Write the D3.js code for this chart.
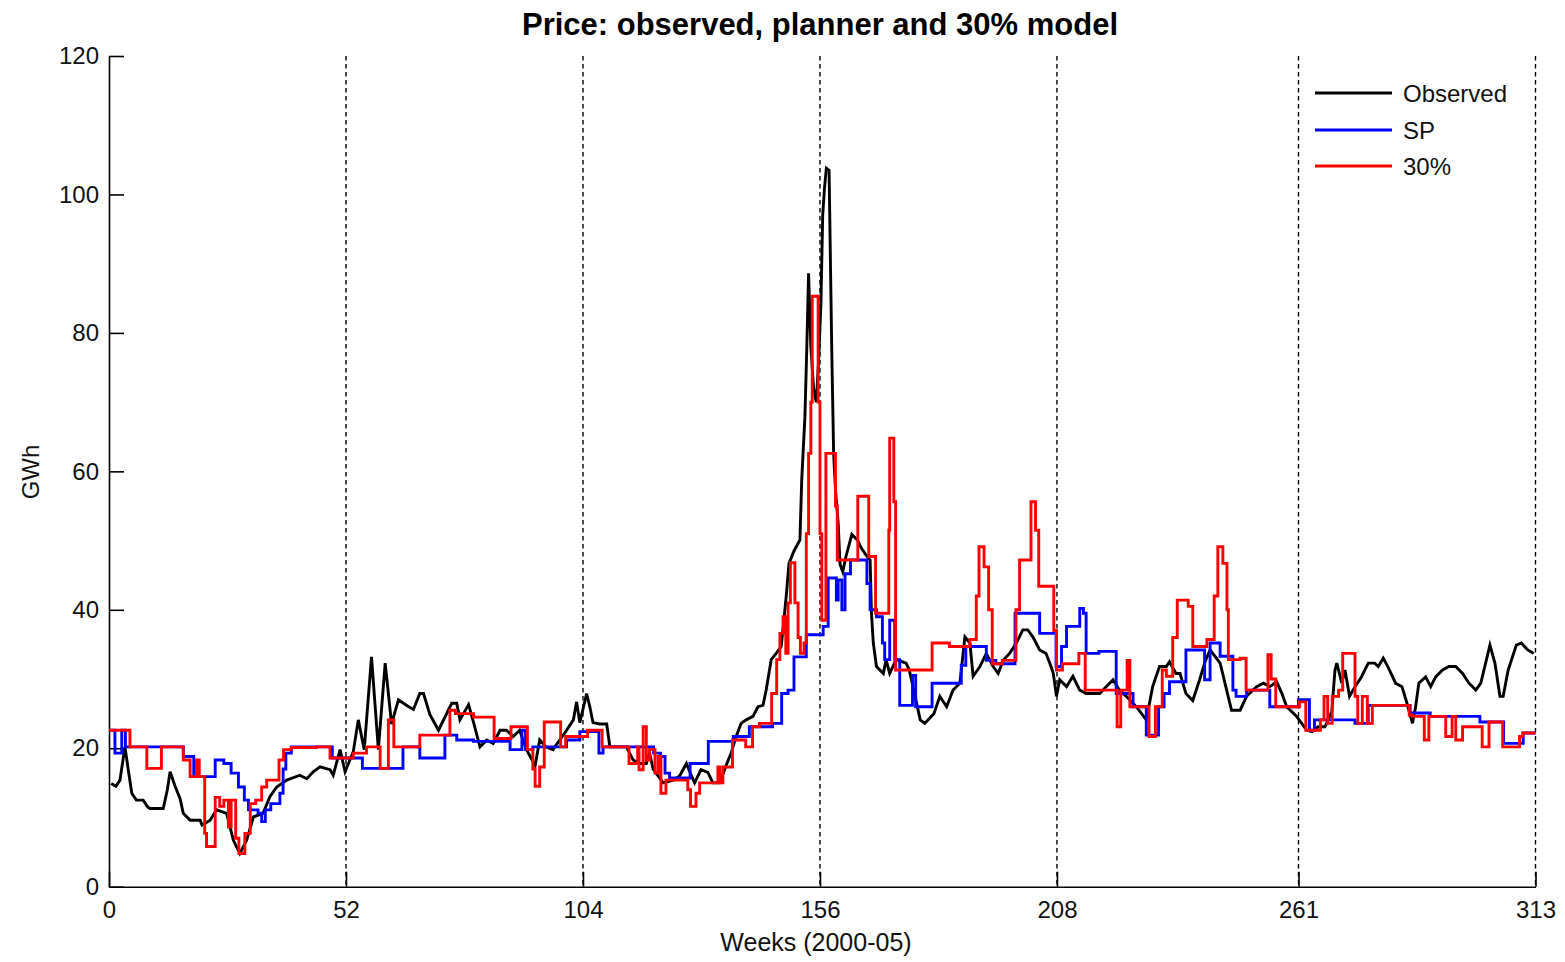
<!DOCTYPE html>
<html>
<head>
<meta charset="utf-8">
<script src="https://cdn.jsdelivr.net/npm/d3@7"></script>
<style>
  html, body { margin: 0; padding: 0; background: #ffffff; }
  svg { display: block; font-family: "Liberation Sans", Arial, Helvetica, sans-serif; }
</style>
</head>
<body>
<svg id="chart" width="1565" height="962"></svg>
<script>
// Weekly prices 2000-05: [week, value]
const observed = [
  [0.5,14.9],[1.5,14.5],[2.4,15.4],[3.5,20.2],[4.2,17],[5,13.5],[6,12.5],[7.5,12.5],[8.5,11.5],[9,11.3],
  [11.9,11.3],[12.8,14],[13.4,16.6],[14.5,14.5],[15.6,12.7],[16.3,10.6],[17.8,9.6],[20,9.6],[20.4,8.9],
  [22.2,9.6],[23.6,11.1],[25.8,10.6],[27.3,6.7],[28.7,4.8],[30.2,6.7],[31.7,10.1],[33.8,10.6],[35.3,13],
  [36.8,14.4],[39,15.4],[41.9,16.1],[43.4,15.6],[44.8,16.6],[46.3,17.3],[48.5,16.9],[49.2,16.1],[50.7,19.8],
  [51.8,16.6],[53.6,19.5],[54.7,24.1],[56,19.8],[57.6,33.2],[59.1,19.8],[60.6,32.3],[62,23.5],[63.5,27],
  [65.5,26.1],[66.8,25.6],[68.2,27.9],[69,27.9],[70.4,24.9],[72.3,22.6],[75.2,26.5],[76.3,26.5],[77,24.1],
  [78.9,26.3],[80,23.7],[81.4,20.2],[82.9,21.2],[84.3,20.7],[85.8,22.6],[87.2,22.6],[88.7,21.7],[90.1,22.6],
  [91.6,19.8],[93.5,17.5],[94.5,21.2],[95.9,20.2],[97.4,19.8],[100.4,22.6],[101.9,24.1],[102.6,26.7],
  [103.3,23.7],[104.8,27.9],[105.5,26],[106.2,23.7],[107.7,23.5],[109.2,23.5],[109.9,20.2],[113.5,20.2],
  [115,18.3],[116.4,17.8],[117.9,17.8],[118.6,19.3],[119.4,17],[121.6,15],[123.8,15.4],[125.2,16],
  [126.7,17.8],[127.8,16],[128.5,15],[129.9,16.9],[131.4,16.5],[132.5,15],[134,15],[135.4,17.5],[136.5,19.3],
  [137.6,21.7],[138.7,23.6],[139.8,24.1],[141.3,24.6],[142.4,26],[143.5,26.2],[144.2,28.4],[145.3,32.8],
  [146.4,33.7],[147.5,34.7],[148,38],[148.6,42],[149.2,46.7],[150.3,48.5],[151.6,50.1],[152,58.8],
  [152.7,67.9],[153.1,77.6],[153.5,88.6],[154,78],[154.6,72],[155.2,70],[155.7,76],[156.2,84],[156.6,97],
  [157,101],[157.4,103.8],[158,103.5],[158.3,90],[158.6,77],[159,62.6],[159.4,57.3],[160,52.5],[160.4,46.6],
  [161,45.5],[161.7,47.7],[163,50.9],[164.3,50],[165,49],[166,48],[167,47.2],[167.3,39.5],[167.7,35.2],
  [168.4,31.8],[169.9,30.8],[170.5,32.8],[171.3,30.8],[172.7,32.8],[174.9,32.3],[175.6,31.3],[176.4,28.9],
  [178,24.1],[179,23.6],[181,25],[182.3,27.5],[183.8,26],[185.2,28.4],[186.7,29.4],[187.8,36.1],[188.9,35.2],
  [189.6,30.4],[191.1,31.8],[192.5,33.7],[194,31.8],[195.1,30.8],[196.2,32.7],[197.6,33.7],[199.1,35.2],
  [200.5,37.1],[201.6,37.1],[202.7,36.1],[204.2,34.2],[205.6,33.7],[206.7,31.8],[207.2,30.8],[207.9,27.5],
  [208.6,29.9],[210.1,28.9],[211.5,30.4],[213,28.4],[214.4,27.9],[217.4,27.9],[218.8,28.9],[220.3,29.9],
  [221.7,28.4],[223.2,27.5],[225.4,26],[227.6,24.1],[229,28.9],[230.5,31.8],[232,31.8],[232.7,32.5],
  [234.1,30.8],[235,30.8],[236.3,27.9],[237.8,26.9],[239.3,29.9],[240.5,32.5],[241.6,34.2],[243.8,32.3],
  [246.3,25.5],[248.2,25.5],[249.6,27.5],[251.8,28.9],[253.3,29.4],[254.7,28.9],[256.2,29.6],[257.3,28],
  [258.4,26],[260.6,24.6],[262.8,22.6],[264,22.4],[265.3,23.1],[266.8,23.1],[268.3,25.3],[269,31.3],
  [269.4,32.3],[270.5,29.4],[271.2,31.3],[272.2,27.5],[273.4,28.9],[274.8,30.3],[276.3,32.3],[277.7,32.3],
  [278.5,31.8],[279.6,33],[280.6,31.8],[282.3,29.4],[283.7,28.9],[284.8,26.5],[286,23.6],[286.7,26],
  [287.4,29.4],[288.9,30.3],[290,28.9],[291.1,30.3],[292.6,31.3],[294,31.8],[295.5,31.8],[297,30.8],
  [298.4,29.4],[299.9,28.4],[301,29.4],[303,34.9],[304.1,32.3],[305.2,27.5],[305.9,27.5],[307,31.3],
  [308.8,34.9],[309.9,35.2],[311.3,34.2],[312.6,33.7]
];

// Social planner (SP) price, piecewise constant from each week listed
const planner = [
  [0,22.6],[1.3,19.3],[2.8,22.6],[3.6,20.2],[16.3,18.8],[18.6,15.9],[23.3,18.3],[25.2,17.8],[26.8,16.4],
  [28.4,14.4],[29.7,12.5],[30.6,11.1],[32.7,10.6],[33.5,9.4],[34.3,11.1],[35.5,12],[37.5,13.5],[38.2,17],
  [38.8,19.3],[40,20.2],[49,18.6],[55.6,17.1],[64.5,20.2],[68.2,18.6],[73.7,21.9],[76.3,21.2],[80,21],
  [88,19.8],[90.6,22.6],[91.4,19.8],[93,20.2],[100.4,21.2],[103.3,22.4],[107.5,19.3],[108.4,20.2],
  [119.5,19.3],[121,18.8],[122,16.4],[123,15.7],[127.5,17.8],[131.5,21],[137,21.7],[140.5,23.1],
  [145.6,23.6],[147.6,27.9],[149,28.4],[150.3,33.2],[153,36.4],[156.7,37.6],[157.8,44.6],[159.6,41.4],
  [160,44.3],[160.8,40],[161.5,45.2],[162.7,47.2],[166.3,43.8],[167,40],[168.4,39],[169.7,35.2],
  [170.2,32.8],[171.3,38.5],[172.4,32.8],[173.5,26.2],[176.3,30.5],[177,26],[180.6,29.4],[187,32],
  [188,34.7],[192.5,32.7],[194.6,32.2],[198.8,39.5],[204.2,36.6],[207.8,31.8],[209,34.7],[210.1,37.6],
  [213,40.2],[213.8,39.5],[214.4,33.7],[217.2,34],[221,27.9],[224.7,26],[227.6,21.9],[230.3,26],
  [231.5,27.9],[232.7,29.6],[236.3,34.2],[240.4,29.9],[241.6,35.2],[243.8,33.3],[246.6,28.4],[247.3,27.5],
  [249.6,28.4],[254.7,26],[261,27],[263.4,22.6],[264.5,24.1],[273.4,23.6],[276.3,26.2],[285.5,25.1],
  [289.9,24.6],[300.8,23.8],[306,20.7],[310.3,22.2],[313,22.2]
];

// 30% model price, piecewise constant from each week listed
const model30 = [
  [0,22.6],[4.6,20.2],[8.3,17.1],[11.5,20.2],[16.3,18.3],[17.8,15.9],[19.2,18.3],[19.8,15.9],[21,7.7],
  [21.4,5.8],[23.3,12.9],[24.3,11.6],[25.2,12.5],[26.2,8.6],[26.8,12.5],[27.8,7],[28.5,4.8],[29.8,7.7],
  [31,12],[32.2,12.5],[33.5,14.4],[34.6,15.4],[37.3,18.3],[38.3,19.8],[40,20.1],[45.5,20.2],[48.5,18.6],
  [53.6,19.3],[56.5,20.2],[59.5,17.1],[61.3,24.1],[62.5,20.2],[68.2,21.9],[74.8,25.5],[76,25],[80,24.5],
  [84.5,21.4],[88.2,23.1],[91.8,19.8],[93,17],[93.5,14.5],[94.5,17.3],[95.5,23.8],[99.1,20.2],[100.2,21.7],
  [105,22.6],[108.2,20.2],[114.1,17.8],[116,20.2],[116.3,16.9],[117.2,23.1],[117.9,18.3],[118.6,19.8],
  [119.8,16.4],[120.5,18.8],[121.1,13.5],[122.2,15.4],[127,14],[127.6,11.6],[128.8,13.5],[129.6,15],
  [133.6,17.3],[134,15],[134.7,17.3],[136.8,21.2],[139.7,20.2],[141.2,23.1],[142.7,23.6],[145.4,27.9],
  [146.5,32.8],[147.2,36.6],[147.9,39],[148.5,33.7],[149,41],[149.5,46.8],[150.5,41],[151.2,36],
  [151.7,33.7],[152.5,35.2],[153,51],[153.5,62.6],[154,70],[154.3,85.3],[155.6,70],[156,51],[156.4,38.5],
  [157.3,62.6],[159.4,55],[159.8,47.2],[164.3,56.4],[166.7,47.7],[168.2,39.5],[171.1,51.5],[171.3,64.8],
  [172.2,55.6],[172.6,31.3],[180.6,35.2],[184.4,34.7],[188.9,35.7],[190.3,42],[190.9,49.1],[192,46.2],
  [193,40],[193.8,32.2],[196,32.7],[199,40],[199.8,47.2],[202.3,55.6],[203.3,51.5],[204,43.4],[207.3,37],
  [207.9,31.3],[209.2,32.2],[212.8,33.7],[214.2,28.4],[221.2,23.1],[222,28.4],[223.4,32.7],[224,26],
  [228.2,21.7],[229.6,26],[231.1,31.3],[232,30.4],[233.4,36],[234.4,41.4],[236.8,40.5],[237.8,34.7],
  [240.9,35.7],[242.5,42],[243.3,49.1],[244.4,46.7],[245.3,40],[245.6,32.8],[248.2,33],[249.5,28.4],
  [254.3,33.5],[255,30],[256,26],[261.2,26.7],[262.6,22.6],[265.8,24.1],[266.6,27.5],[267.4,23.6],
  [268.4,27.5],[269.8,28.4],[270.7,33.7],[273.4,27.5],[274,23.6],[275,27.5],[276.1,23.6],[277.2,26.2],
  [285.3,24.8],[286,24.6],[288.6,21.2],[289.6,24.6],[293.3,21.7],[294.7,24.6],[295.5,21.2],[297,23.1],
  [301.3,20.2],[302.8,23.8],[305.8,20.2],[309.5,21.7],[310.2,22.2],[313,22.2]
];

const xTicks = [0, 52, 104, 156, 208, 261, 313];
const yTicks = [0, 20, 40, 60, 80, 100, 120];
const yearMarks = [52, 104, 156, 208, 261, 313];

const seriesInfo = [
  { name: "Observed", data: observed, color: "#000000", curve: d3.curveLinear },
  { name: "SP",       data: planner,  color: "#0000ff", curve: d3.curveStepAfter },
  { name: "30%",      data: model30,  color: "#ff0000", curve: d3.curveStepAfter }
];

const svg = d3.select("#chart");
const plotLeft = 109, plotRight = 1535.5, plotTop = 56, plotBottom = 886.7;

const x = d3.scaleLinear().domain([0, 313]).range([plotLeft, plotRight]);
const y = d3.scaleLinear().domain([0, 120]).range([plotBottom, plotTop]);

// dashed year separators
svg.append("g").selectAll("line").data(yearMarks).join("line")
  .attr("x1", d => x(d)).attr("x2", d => x(d))
  .attr("y1", y(120)).attr("y2", y(0))
  .attr("stroke", "#000").attr("stroke-width", 1.4)
  .attr("stroke-dasharray", "4.5,3.5");

// axes with inward ticks
const xAxis = svg.append("g")
  .attr("transform", `translate(0,${plotBottom})`)
  .call(d3.axisBottom(x).tickValues(xTicks).tickFormat(d3.format("d"))
    .tickSize(-15).tickSizeOuter(0).tickPadding(14));
const yAxis = svg.append("g")
  .attr("transform", `translate(${plotLeft},0)`)
  .call(d3.axisLeft(y).tickValues(yTicks).tickFormat(d3.format("d"))
    .tickSize(-15).tickSizeOuter(0).tickPadding(10));

[xAxis, yAxis].forEach(g => {
  g.select(".domain").attr("stroke", "#000").attr("stroke-width", 1.6);
  g.selectAll(".tick line").attr("stroke", "#000").attr("stroke-width", 1.6);
  g.selectAll(".tick text").attr("fill", "#111").style("font-size", "24px")
    .style("font-family", "'Liberation Sans', Arial, sans-serif");
});

// data lines
const plot = svg.append("g");
seriesInfo.forEach(s => {
  const line = d3.line().x(d => x(d[0])).y(d => y(d[1])).curve(s.curve);
  plot.append("path").datum(s.data)
    .attr("d", line)
    .attr("fill", "none")
    .attr("stroke", s.color)
    .attr("stroke-width", 2.9)
    .attr("stroke-linejoin", "miter");
});

// title and axis labels
svg.append("text")
  .attr("x", 820).attr("y", 35)
  .attr("text-anchor", "middle")
  .style("font-size", "31px").style("font-weight", "bold")
  .text("Price: observed, planner and 30% model");

svg.append("text")
  .attr("x", 816).attr("y", 951)
  .attr("text-anchor", "middle")
  .style("font-size", "25px").attr("fill", "#111")
  .text("Weeks (2000-05)");

svg.append("text")
  .attr("transform", "translate(39,472) rotate(-90)")
  .attr("text-anchor", "middle")
  .style("font-size", "24px").attr("fill", "#111")
  .text("GWh");

// legend
const legend = svg.append("g");
const legendY = [93, 130, 166];
seriesInfo.forEach((s, i) => {
  legend.append("line")
    .attr("x1", 1315).attr("x2", 1392)
    .attr("y1", legendY[i]).attr("y2", legendY[i])
    .attr("stroke", s.color).attr("stroke-width", 3.2);
  legend.append("text")
    .attr("x", 1403).attr("y", legendY[i])
    .attr("dominant-baseline", "central")
    .style("font-size", "24px").attr("fill", "#111")
    .text(s.name);
});
</script>
</body>
</html>
